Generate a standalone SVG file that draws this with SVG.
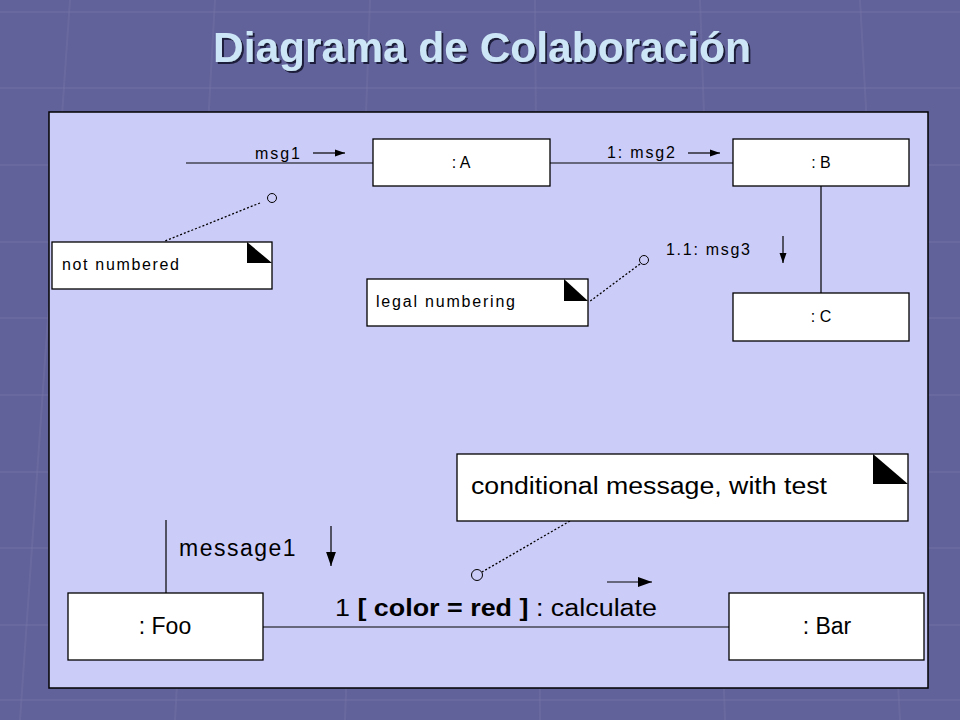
<svg xmlns="http://www.w3.org/2000/svg" width="960" height="720" viewBox="0 0 960 720">
<style>
.box{fill:#ffffff;stroke:#000000;stroke-width:1.3}
.line{stroke:#000000;stroke-width:1.2;fill:none}
.dot{stroke:#000000;stroke-width:1.3;stroke-dasharray:2 2;fill:none}
.circ{fill:none;stroke:#000000;stroke-width:1}
.sm{font-family:"Liberation Sans",Arial,sans-serif;font-size:16px;fill:#000}
.lg{font-family:"Liberation Sans",Arial,sans-serif;font-size:23px;fill:#000}
.grid{stroke:#7676a8;stroke-width:2;opacity:0.4;fill:none}
</style>
<defs>
<marker id="ah" viewBox="0 0 10 10" refX="10" refY="5" markerWidth="10" markerHeight="10" markerUnits="userSpaceOnUse" orient="auto">
<path d="M0,1.5 L10,5 L0,8.5 z" fill="#000"/>
</marker>
<marker id="ahL" viewBox="0 0 10 10" refX="10" refY="5" markerWidth="14" markerHeight="14" markerUnits="userSpaceOnUse" orient="auto">
<path d="M0,1.5 L10,5 L0,8.5 z" fill="#000"/>
</marker>
<filter id="shadow" x="-10%" y="-30%" width="120%" height="160%">
<feDropShadow dx="2" dy="2" stdDeviation="0.6" flood-color="#1c1c3a" flood-opacity="1"/>
</filter>
</defs>
<rect x="0" y="0" width="960" height="720" fill="#62629a"/>
<g id="bg-grid">
<path class="grid" d="M0,12 H960 M0,88 H960 M0,165 H960 M0,242 H960 M0,318 H960 M0,395 H960 M0,472 H960 M0,548 H960 M0,625 H960 M0,700 H960"/>
<path class="grid" d="M70,0 L20,720 M215,0 L175,720 M370,0 L345,720 M535,0 L540,720 M700,0 L725,720 M860,0 L900,720"/>
</g>
<g id="title">
<text x="482" y="62" text-anchor="middle" font-family="'Liberation Sans Narrow','Liberation Sans',Arial,sans-serif" font-weight="bold" font-size="43" fill="#cde6f7" textLength="538" lengthAdjust="spacingAndGlyphs" filter="url(#shadow)">Diagrama de Colaboración</text>
</g>
<rect id="panel" x="49" y="112" width="879" height="576" fill="#ccccf9" stroke="#000" stroke-width="1.5"/>
<g id="connectors">
<line class="line" x1="186" y1="163" x2="373" y2="163"/>
<line class="line" x1="550" y1="163" x2="733" y2="163"/>
<line class="line" x1="821" y1="186" x2="821" y2="293"/>
<line class="line" x1="166" y1="520" x2="166" y2="593"/>
<line class="line" x1="263" y1="627" x2="729" y2="627"/>
<line class="line" x1="313" y1="153" x2="345" y2="153" marker-end="url(#ah)"/>
<line class="line" x1="688" y1="153" x2="720" y2="153" marker-end="url(#ah)"/>
<line class="line" x1="783" y1="236" x2="783" y2="263" marker-end="url(#ah)"/>
<line class="line" x1="331" y1="526" x2="331" y2="566" marker-end="url(#ahL)"/>
<line class="line" x1="607" y1="582" x2="652" y2="582" marker-end="url(#ahL)"/>
<line class="dot" x1="260" y1="203" x2="165" y2="241"/>
<circle class="circ" cx="272" cy="198" r="4.5"/>
<line class="dot" x1="640" y1="264" x2="589" y2="302"/>
<circle class="circ" cx="644" cy="260" r="4.5"/>
<line class="dot" x1="570" y1="521" x2="482" y2="572"/>
<circle class="circ" cx="477" cy="575" r="5.5"/>
<text class="sm" x="255" y="159" textLength="45" lengthAdjust="spacing">msg1</text>
<text class="sm" x="607" y="158" textLength="68" lengthAdjust="spacing">1: msg2</text>
<text class="sm" x="666" y="255" textLength="84" lengthAdjust="spacing">1.1: msg3</text>
<text class="lg" x="179" y="556" font-size="22" letter-spacing="1.5">message1</text>
<text class="lg" x="335" y="616" font-size="24" textLength="322" lengthAdjust="spacingAndGlyphs"><tspan>1 </tspan><tspan font-weight="bold">[ color = red ]</tspan><tspan> :  calculate</tspan></text>
</g>
<g id="A"><rect class="box" x="373" y="139" width="177" height="47"/><text class="sm" x="461" y="168" text-anchor="middle">: A</text></g>
<g id="B"><rect class="box" x="733" y="139" width="176" height="47"/><text class="sm" x="821" y="168" text-anchor="middle">: B</text></g>
<g id="C"><rect class="box" x="733" y="293" width="176" height="48"/><text class="sm" x="821" y="322" text-anchor="middle">: C</text></g>
<g id="note-not-numbered"><rect class="box" x="52" y="242" width="220" height="47"/><path d="M247,242 L247,263 L272,263 z" fill="#000"/><text class="sm" x="62" y="270" textLength="117" lengthAdjust="spacing">not numbered</text></g>
<g id="note-legal"><rect class="box" x="367" y="279" width="221" height="47"/><path d="M564,279 L564,301 L588,301 z" fill="#000"/><text class="sm" x="376" y="307" textLength="139" lengthAdjust="spacing">legal numbering</text></g>
<g id="note-conditional"><rect class="box" x="457" y="454" width="451" height="67"/><path d="M873,454 L873,484 L908,484 z" fill="#000"/><text class="lg" x="471" y="494" font-size="22" textLength="356" lengthAdjust="spacingAndGlyphs">conditional message, with test</text></g>
<g id="Foo"><rect class="box" x="68" y="593" width="195" height="67"/><text class="lg" x="165" y="634" text-anchor="middle">: Foo</text></g>
<g id="Bar"><rect class="box" x="729" y="593" width="195" height="67"/><text class="lg" x="827" y="634" text-anchor="middle">: Bar</text></g>
</svg>
